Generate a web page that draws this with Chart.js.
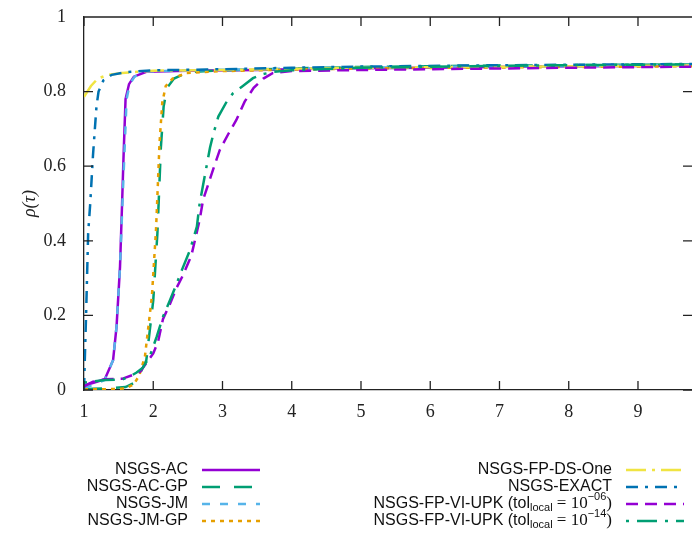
<!DOCTYPE html>
<html>
<head>
<meta charset="utf-8">
<script src="https://cdn.jsdelivr.net/npm/chart.js@4/dist/chart.umd.min.js"></script>
<style>
  body { margin: 0; background: #fff; }
  canvas { display: block; }
</style>
</head>
<body>
<canvas id="myChart" width="692" height="538"></canvas>
<script>
const xTicks = [1, 2, 3, 4, 5, 6, 7, 8, 9];
const yTicks = [0, 0.2, 0.4, 0.6, 0.8, 1];

const labels = [
  'NSGS-AC', 'NSGS-AC-GP', 'NSGS-JM', 'NSGS-JM-GP',
  'NSGS-FP-DS-One', 'NSGS-EXACT',
  'NSGS-FP-VI-UPK (tol_local = 10^−06)',
  'NSGS-FP-VI-UPK (tol_local = 10^−14)'
];

const acTau = [1.0, 1.15, 1.3, 1.42, 1.47, 1.52, 1.55, 1.57, 1.6, 1.65, 1.72, 1.9, 2.5, 3.5, 4.5, 6, 7.5, 9.8];
const acRho = [0.012, 0.02, 0.029, 0.08, 0.17, 0.33, 0.5, 0.62, 0.78, 0.82, 0.84, 0.853, 0.856, 0.858, 0.862, 0.864, 0.867, 0.869];

const acgpTau = [1.0, 1.3, 1.6, 1.71, 1.8, 1.9, 1.95, 2.0, 2.03, 2.06, 2.08, 2.11, 2.15, 2.2, 2.3, 2.5, 3, 4, 5, 6.5, 8, 9.8];
const acgpRho = [0.003, 0.004, 0.008, 0.018, 0.04, 0.08, 0.16, 0.24, 0.33, 0.42, 0.51, 0.65, 0.76, 0.81, 0.835, 0.852, 0.857, 0.862, 0.866, 0.869, 0.871, 0.873];

const jmTau = [1.0, 1.15, 1.3, 1.42, 1.47, 1.52, 1.555, 1.585, 1.615, 1.66, 1.73, 1.9, 2.5, 3.5, 4.5, 6, 7.5, 9.8];
const jmRho = [0.005, 0.015, 0.027, 0.08, 0.17, 0.33, 0.5, 0.64, 0.78, 0.82, 0.84, 0.854, 0.857, 0.86, 0.863, 0.866, 0.868, 0.871];

const jmgpTau = [1.0, 1.3, 1.6, 1.72, 1.8, 1.88, 1.93, 1.98, 2.01, 2.04, 2.06, 2.09, 2.13, 2.18, 2.28, 2.48, 3, 4, 5, 6.5, 8, 9.8];
const jmgpRho = [0.002, 0.002, 0.004, 0.015, 0.04, 0.09, 0.17, 0.25, 0.34, 0.43, 0.52, 0.66, 0.77, 0.815, 0.835, 0.85, 0.855, 0.859, 0.862, 0.864, 0.866, 0.868];

const dsTau = [1.0, 1.1, 1.2, 1.35, 1.55, 2, 3, 4, 5, 6.5, 8, 9.8];
const dsRho = [0.786, 0.815, 0.835, 0.845, 0.85, 0.856, 0.858, 0.861, 0.864, 0.866, 0.868, 0.87];

const exactTau = [1.0, 1.01, 1.03, 1.06, 1.09, 1.13, 1.18, 1.21, 1.28, 1.4, 1.6, 2, 3, 4, 5, 6.5, 8, 9.8];
const exactRho = [0.0, 0.07, 0.2, 0.42, 0.5, 0.63, 0.76, 0.8, 0.83, 0.845, 0.852, 0.857, 0.86, 0.864, 0.867, 0.87, 0.872, 0.874];

const upk6Tau = [1.0, 1.13, 1.3, 1.55, 1.7, 1.81, 1.88, 2.0, 2.07, 2.14, 2.24, 2.34, 2.43, 2.55, 2.67, 2.72, 2.87, 2.96, 3.08, 3.2, 3.32, 3.45, 3.59, 3.73, 4, 5, 6.5, 8, 9.8];
const upk6Rho = [0.01, 0.022, 0.029, 0.03, 0.04, 0.049, 0.067, 0.098, 0.13, 0.19, 0.23, 0.275, 0.308, 0.36, 0.456, 0.51, 0.594, 0.643, 0.685, 0.724, 0.773, 0.81, 0.835, 0.85, 0.855, 0.858, 0.861, 0.864, 0.867];

const upk14Tau = [1.0, 1.3, 1.55, 1.67, 1.76, 1.85, 1.95, 2.05, 2.14, 2.24, 2.34, 2.41, 2.53, 2.63, 2.67, 2.77, 2.82, 2.87, 2.94, 3.06, 3.15, 3.28, 3.44, 3.59, 3.73, 4, 5, 6.5, 8, 9.8];
const upk14Rho = [0.02, 0.027, 0.028, 0.037, 0.047, 0.06, 0.09, 0.143, 0.196, 0.24, 0.286, 0.32, 0.375, 0.438, 0.5, 0.6, 0.65, 0.688, 0.733, 0.773, 0.795, 0.813, 0.836, 0.847, 0.853, 0.857, 0.864, 0.868, 0.871, 0.873];

const serif = "'Liberation Serif', 'DejaVu Serif', serif";
const sans = "'Liberation Sans', 'DejaVu Sans', sans-serif";
const axisColor = '#222';

function toPoints(tau, rho) {
  return tau.map((t, i) => ({ x: t, y: rho[i] }));
}

function makeSet(label, tau, rho, color, dash) {
  return {
    label: label,
    data: toPoints(tau, rho),
    borderColor: color,
    backgroundColor: color,
    borderDash: dash,
    borderWidth: 2.5,
    pointRadius: 0,
    tension: 0,
    fill: false
  };
}

const datasets = [
  makeSet(labels[0], acTau, acRho, '#9400d3', []),
  makeSet(labels[1], acgpTau, acgpRho, '#009e73', [18, 14]),
  makeSet(labels[2], jmTau, jmRho, '#56b4e9', [8, 10]),
  makeSet(labels[3], jmgpTau, jmgpRho, '#e69f00', [4, 5]),
  makeSet(labels[4], dsTau, dsRho, '#f0e442', [20, 6, 3, 6]),
  makeSet(labels[5], exactTau, exactRho, '#0072b2', [12, 7, 3, 7]),
  makeSet(labels[6], upk6Tau, upk6Rho, '#9400d3', [12, 7]),
  makeSet(labels[7], upk14Tau, upk14Rho, '#009e73', [3, 8, 20, 8])
];
// later series on top, like gnuplot
datasets.forEach((ds, i) => { ds.order = datasets.length - i; });

// inner ticks + top line, gnuplot style
const framePlugin = {
  id: 'frame',
  afterDatasetsDraw(chart) {
    const ctx = chart.ctx;
    const area = chart.chartArea;
    const xs = chart.scales.x;
    const ys = chart.scales.y;
    const len = 9;
    ctx.save();
    ctx.strokeStyle = axisColor;
    ctx.lineWidth = 1.3;
    ctx.beginPath();
    ctx.moveTo(area.left, area.top);
    ctx.lineTo(area.right, area.top);
    xTicks.forEach(v => {
      const px = xs.getPixelForValue(v);
      ctx.moveTo(px, area.bottom);
      ctx.lineTo(px, area.bottom - len);
      ctx.moveTo(px, area.top);
      ctx.lineTo(px, area.top + len);
    });
    yTicks.forEach(v => {
      const py = ys.getPixelForValue(v);
      ctx.moveTo(area.left, py);
      ctx.lineTo(area.left + len, py);
      ctx.moveTo(area.right, py);
      ctx.lineTo(area.right - len, py);
    });
    ctx.stroke();
    ctx.restore();
  }
};

function splitLabel(text) {
  return text.split(/(_\w+|\^[^\s)]+)/).filter(s => s.length);
}

function partFont(part) {
  if (part[0] === '_' || part[0] === '^') return '11px ' + sans;
  if (/[=()0-9]/.test(part) && !/[A-Za-z]/.test(part)) return '17px ' + serif;
  return '16px ' + sans;
}

function partText(part) {
  return (part[0] === '_' || part[0] === '^') ? part.slice(1) : part;
}

function drawLabel(ctx, text, rightX, y) {
  const parts = splitLabel(text);
  let total = 0;
  parts.forEach(p => {
    ctx.font = partFont(p);
    total += ctx.measureText(partText(p)).width;
  });
  let x = rightX - total;
  parts.forEach(p => {
    ctx.font = partFont(p);
    let dy = 0;
    if (p[0] === '_') dy = 4;
    if (p[0] === '^') dy = -7;
    ctx.fillText(partText(p), x, y + dy);
    x += ctx.measureText(partText(p)).width;
  });
}

const legendPlugin = {
  id: 'sideLegend',
  afterDraw(chart) {
    const ctx = chart.ctx;
    const rows = [470, 487, 504, 521];
    const cols = [
      { textRight: 188, lineStart: 202, lineEnd: 260 },
      { textRight: 612, lineStart: 626, lineEnd: 684 }
    ];
    ctx.save();
    ctx.textBaseline = 'middle';
    ctx.textAlign = 'left';
    chart.data.datasets.forEach((ds, i) => {
      const col = cols[Math.floor(i / 4)];
      const y = rows[i % 4];
      ctx.fillStyle = '#111';
      drawLabel(ctx, ds.label, col.textRight, y);
      ctx.strokeStyle = ds.borderColor;
      ctx.lineWidth = ds.borderWidth;
      ctx.setLineDash(ds.borderDash);
      ctx.beginPath();
      ctx.moveTo(col.lineStart, y);
      ctx.lineTo(col.lineEnd, y);
      ctx.stroke();
    });
    ctx.restore();
  }
};

const myChart = new Chart(document.getElementById('myChart'), {
  type: 'line',
  data: { datasets: datasets },
  plugins: [framePlugin, legendPlugin],
  options: {
    responsive: false,
    animation: false,
    layout: { padding: { top: 17, right: 0, left: 0, bottom: 0 } },
    plugins: {
      legend: { display: false },
      tooltip: { enabled: false }
    },
    scales: {
      x: {
        type: 'linear',
        min: 1,
        max: 9.78,
        afterFit: s => { s.height = 148; s.paddingLeft = 0; s.paddingRight = 0; },
        afterBuildTicks: s => { s.ticks = xTicks.map(v => ({ value: v })); },
        grid: { drawOnChartArea: false, drawTicks: false },
        border: { display: true, color: axisColor, width: 1.3 },
        ticks: {
          padding: 11,
          color: axisColor,
          maxRotation: 0,
          font: { family: serif, size: 18 }
        }
      },
      y: {
        type: 'linear',
        min: 0,
        max: 1,
        afterFit: s => { s.width = 84; s.paddingTop = 0; s.paddingBottom = 0; },
        afterBuildTicks: s => { s.ticks = yTicks.map(v => ({ value: v })); },
        grid: { drawOnChartArea: false, drawTicks: false },
        border: { display: true, color: axisColor, width: 1.3 },
        title: {
          display: true,
          text: 'ρ(τ)',
          color: axisColor,
          padding: { top: 19, bottom: 0 },
          font: { family: serif, size: 18, style: 'italic' }
        },
        ticks: {
          padding: 18,
          color: axisColor,
          font: { family: serif, size: 18 },
          callback: v => String(+v.toFixed(1))
        }
      }
    }
  }
});
</script>
</body>
</html>
